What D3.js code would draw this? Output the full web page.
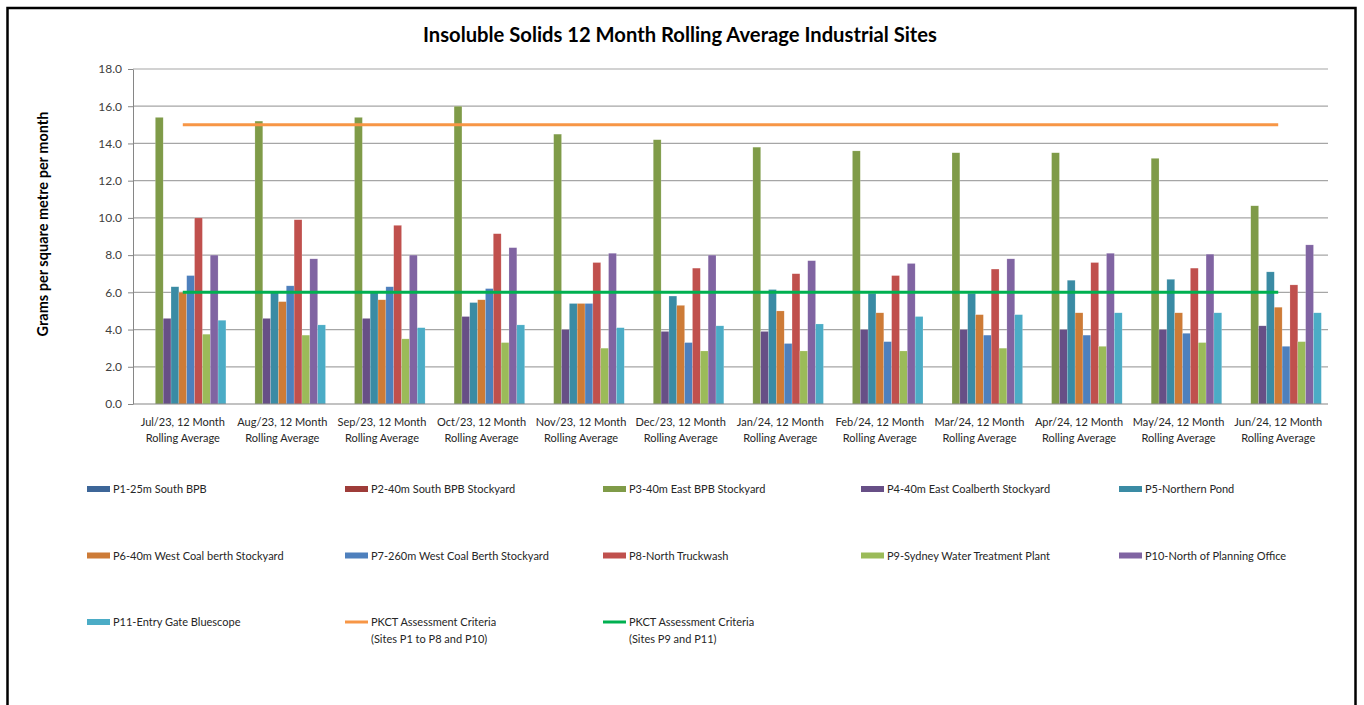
<!DOCTYPE html>
<html>
<head>
<meta charset="utf-8">
<script src="https://cdn.jsdelivr.net/npm/d3@7"></script>
<style>
  body { margin: 0; background: #fff; }
  svg { font-family: Lato, "Liberation Sans", sans-serif; }
</style>
</head>
<body>
<div id="chart"></div>
<script>
// months on the x axis (two line labels)
var months = ["Jul/23", "Aug/23", "Sep/23", "Oct/23", "Nov/23", "Dec/23",
    "Jan/24", "Feb/24", "Mar/24", "Apr/24", "May/24", "Jun/24"];

var seriesNames = ["P1-25m South BPB", "P2-40m South BPB Stockyard", "P3-40m East BPB Stockyard",
    "P4-40m East Coalberth Stockyard", "P5-Northern Pond", "P6-40m West Coal berth Stockyard",
    "P7-260m West Coal Berth Stockyard", "P8-North Truckwash", "P9-Sydney Water Treatment Plant",
    "P10-North of Planning Office", "P11-Entry Gate Bluescope"];

var seriesColors = ["#3D6698", "#9E3C39", "#7F9B48", "#674F86", "#3A8BA4", "#CD7B37",
    "#4E80BD", "#C0504D", "#9BBB59", "#8064A2", "#4BACC6"];

// no results for P1 and P2 in this period
var p1 = [null, null, null, null, null, null, null, null, null, null, null, null];
var p2 = [null, null, null, null, null, null, null, null, null, null, null, null];
var p3 = [15.4, 15.2, 15.4, 16.0, 14.5, 14.2, 13.8, 13.6, 13.5, 13.5, 13.2, 10.65];
var p4 = [4.6, 4.6, 4.6, 4.7, 4.0, 3.9, 3.9, 4.0, 4.0, 4.0, 4.0, 4.2];
var p5 = [6.3, 6.0, 6.0, 5.45, 5.4, 5.8, 6.15, 5.95, 5.95, 6.65, 6.7, 7.1];
var p6 = [6.0, 5.5, 5.6, 5.6, 5.4, 5.3, 5.0, 4.9, 4.8, 4.9, 4.9, 5.2];
var p7 = [6.9, 6.35, 6.3, 6.2, 5.4, 3.3, 3.25, 3.35, 3.7, 3.7, 3.8, 3.1];
var p8 = [10.0, 9.9, 9.6, 9.15, 7.6, 7.3, 7.0, 6.9, 7.25, 7.6, 7.3, 6.4];
var p9 = [3.75, 3.7, 3.5, 3.3, 3.0, 2.85, 2.85, 2.85, 3.0, 3.1, 3.3, 3.35];
var p10 = [8.0, 7.8, 8.0, 8.4, 8.1, 8.0, 7.7, 7.55, 7.8, 8.1, 8.05, 8.55];
var p11 = [4.5, 4.25, 4.1, 4.25, 4.1, 4.2, 4.3, 4.7, 4.8, 4.9, 4.9, 4.9];

var criteriaNames = ["PKCT Assessment Criteria|(Sites P1 to P8 and P10)", "PKCT Assessment Criteria|(Sites P9 and P11)"];
var criteriaValues = [15.0, 6.0];
var criteriaColors = ["#F79646", "#00B050"];

var yTicks = [0, 2, 4, 6, 8, 10, 12, 14, 16, 18];

var allSeries = [p1, p2, p3, p4, p5, p6, p7, p8, p9, p10, p11];

const svgDimentions = { width: 1364, height: 705 };
const margins = { top: 69, bottom: 301, left: 133, right: 36 };

var svg = d3.select("#chart").append("svg")
    .attr("width", svgDimentions.width)
    .attr("height", svgDimentions.height);

// outer frame
svg.append("rect")
    .attr("x", 7.5).attr("y", 8)
    .attr("width", 1348).attr("height", 720)
    .attr("fill", "none").attr("stroke", "#000").attr("stroke-width", 2.5);

svg.append("text")
    .attr("x", 680).attr("y", 42)
    .attr("text-anchor", "middle")
    .style("font-size", "20.2px").style("font-weight", "bold")
    .text("Insoluble Solids 12 Month Rolling Average Industrial Sites");

var scaleX = d3.scaleBand()
    .domain(months)
    .range([margins.left, svgDimentions.width - margins.right]);

var scaleInner = d3.scaleBand()
    .domain(seriesNames)
    .range([0, scaleX.bandwidth()])
    .paddingOuter(0.85);

var scaleY = d3.scaleLinear()
    .domain([0, 18])
    .range([svgDimentions.height - margins.bottom, margins.top]);

// gridlines
svg.append("g")
    .selectAll("line")
    .data(yTicks.slice(1))
    .enter().append("line")
    .attr("x1", margins.left).attr("x2", svgDimentions.width - margins.right)
    .attr("y1", d => scaleY(d)).attr("y2", d => scaleY(d))
    .attr("stroke", "#A6A6A6").attr("stroke-width", 1.2);

var axisY = d3.axisLeft(scaleY)
    .tickValues(yTicks)
    .tickFormat(d3.format(".1f"))
    .tickSizeInner(5).tickSizeOuter(0).tickPadding(6);

var gy = svg.append("g")
    .attr("transform", "translate(" + margins.left + ",0)")
    .call(axisY);
gy.select(".domain").attr("stroke", "#868686");
gy.selectAll(".tick line").attr("stroke", "#868686");
gy.selectAll(".tick text").style("font-size", "12px").style("font-family", "Lato").attr("fill", "#404040");

svg.append("text")
    .attr("transform", "translate(48,224) rotate(-90)")
    .attr("text-anchor", "middle")
    .style("font-size", "14.5px").style("font-weight", "bold")
    .text("Grams per square metre per month");

// bars
var groups = svg.append("g").selectAll("g")
    .data(months)
    .enter().append("g")
    .attr("transform", d => "translate(" + scaleX(d) + ",0)");

groups.selectAll("rect")
    .data((m, i) => seriesNames.map((s, j) => ({ nom: s, value: allSeries[j][i], color: seriesColors[j] }))
        .filter(d => d.value !== null))
    .enter().append("rect")
    .attr("x", d => scaleInner(d.nom))
    .attr("y", d => scaleY(d.value))
    .attr("width", scaleInner.bandwidth())
    .attr("height", d => scaleY(0) - scaleY(d.value))
    .attr("fill", d => d.color)
    .attr("stroke", "#ffffff").attr("stroke-opacity", 0.35).attr("stroke-width", 0.5);

// x axis line
svg.append("line")
    .attr("x1", margins.left).attr("x2", svgDimentions.width - margins.right)
    .attr("y1", scaleY(0)).attr("y2", scaleY(0))
    .attr("stroke", "#868686").attr("stroke-width", 1.2);

// x labels
var xl = svg.append("g").selectAll("text")
    .data(months)
    .enter().append("text")
    .attr("x", d => scaleX(d) + scaleX.bandwidth() / 2)
    .attr("y", 426)
    .attr("text-anchor", "middle")
    .style("font-size", "11px").attr("fill", "#262626");
xl.append("tspan").text(d => d + ", 12 Month");
xl.append("tspan").attr("x", d => scaleX(d) + scaleX.bandwidth() / 2).attr("dy", 16).text("Rolling Average");

// criteria lines
var first = scaleX(months[0]) + scaleX.bandwidth() / 2;
var last = scaleX(months[months.length - 1]) + scaleX.bandwidth() / 2;
svg.append("g").selectAll("line")
    .data(criteriaValues)
    .enter().append("line")
    .attr("x1", first).attr("x2", last)
    .attr("y1", d => scaleY(d)).attr("y2", d => scaleY(d))
    .attr("stroke", (d, i) => criteriaColors[i]).attr("stroke-width", 3);

// legend
var legendItems = seriesNames.map((s, i) => ({ label: s, color: seriesColors[i], type: "bar" }))
    .concat(criteriaNames.map((s, i) => ({ label: s, color: criteriaColors[i], type: "line" })));

var legend = svg.append("g").selectAll("g")
    .data(legendItems)
    .enter().append("g")
    .attr("transform", (d, i) => "translate(" + (87 + 258 * (i % 5)) + "," + (489 + 66.5 * Math.floor(i / 5)) + ")");

legend.filter(d => d.type === "bar").append("rect")
    .attr("x", 0).attr("y", -3).attr("width", 23).attr("height", 6)
    .attr("fill", d => d.color);
legend.filter(d => d.type === "line").append("line")
    .attr("x1", 0).attr("x2", 23).attr("y1", 0).attr("y2", 0)
    .attr("stroke", d => d.color).attr("stroke-width", 3);

var lt = legend.append("text")
    .attr("x", 26).attr("y", 4)
    .style("font-size", "11px").attr("fill", "#262626");
lt.append("tspan").text(d => d.label.split("|")[0]);
lt.filter(d => d.label.indexOf("|") > -1)
    .append("tspan").attr("x", 26).attr("dy", 17).text(d => d.label.split("|")[1]);
</script>
</body>
</html>
